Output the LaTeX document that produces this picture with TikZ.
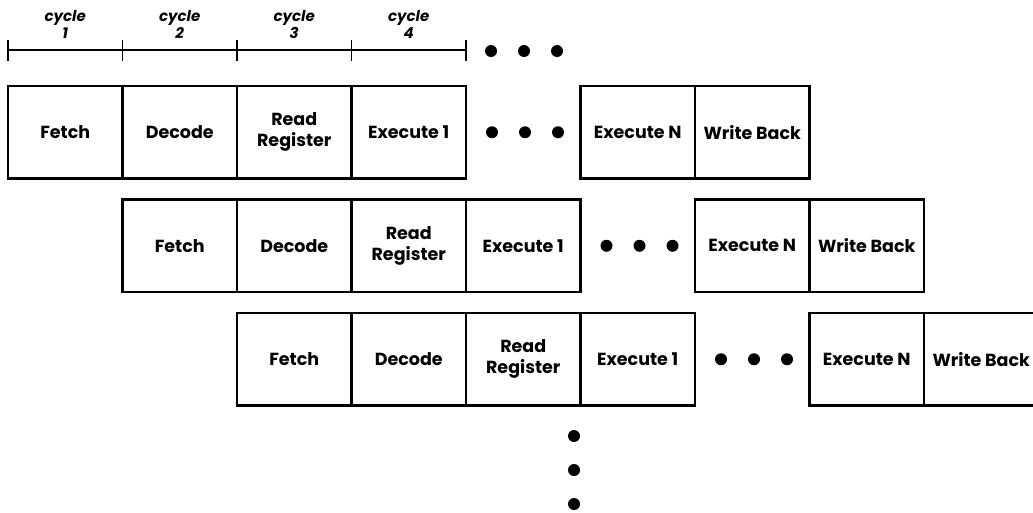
\documentclass[tikz,border=0pt]{standalone}
\usepackage{fontspec}
\setmainfont{Poppins}
\usetikzlibrary{calc}
\begin{document}
\begin{tikzpicture}[x=1pt,y=-1pt,
  stage/.style={draw,line width=2.6pt,minimum width=114.5pt,minimum height=92.5pt,
    inner sep=0pt,outer sep=0pt,anchor=north west,
    font=\fontsize{17.5}{21}\selectfont\bfseries,align=center},
  dot/.style={circle,fill=black,inner sep=0pt,minimum size=12pt},
  cyc/.style={font=\fontsize{15}{17}\selectfont\bfseries\itshape,align=center},
  tick/.style={line width=1.4pt}]
\useasboundingbox (0,0) rectangle (1033,512);

% timeline of clock cycles
\foreach \i/\x in {0/8,1/122.5,2/237,3/351.5,4/466}{
  \coordinate (t\i) at (\x,50);
  \draw[tick] (\x,40) -- (\x,61);
}
\draw[tick] (t0) -- (t4);
\foreach \i/\j/\n in {0/1/1,1/2/2,2/3/3,3/4/4}
  \node[cyc] (c\n) at ($(t\i)!0.5!(t\j)+(0,-26)$) {cycle\\\n};
\node[dot] (td1) at (491,51) {};
\node[dot] (td2) at (524,51) {};
\node[dot] (td3) at (557,51) {};

% three overlapping instruction pipelines
\foreach \r/\x/\y in {1/8/86,2/122.5/199.5,3/237/313}{
  \node[stage] (f\r) at (\x,\y) {Fetch};
  \node[stage] (d\r) at (f\r.north east) {Decode};
  \node[stage] (rr\r) at (d\r.north east) {Read\\Register};
  \node[stage] (e\r) at (rr\r.north east) {Execute 1};
  \node[dot] (a\r) at ($(e\r.east)+(26,0)$) {};
  \node[dot] (b\r) at ($(e\r.east)+(59,0)$) {};
  \node[dot] (g\r) at ($(e\r.east)+(92,0)$) {};
  \node[stage] (n\r) at ($(e\r.north east)+(114.5,0)$) {Execute N};
  \node[stage] (w\r) at (n\r.north east) {Write Back};
}

% further instructions follow
\node[dot] (v1) at (574,436) {};
\node[dot] (v2) at (574,470) {};
\node[dot] (v3) at (574,504) {};
\end{tikzpicture}
\end{document}
